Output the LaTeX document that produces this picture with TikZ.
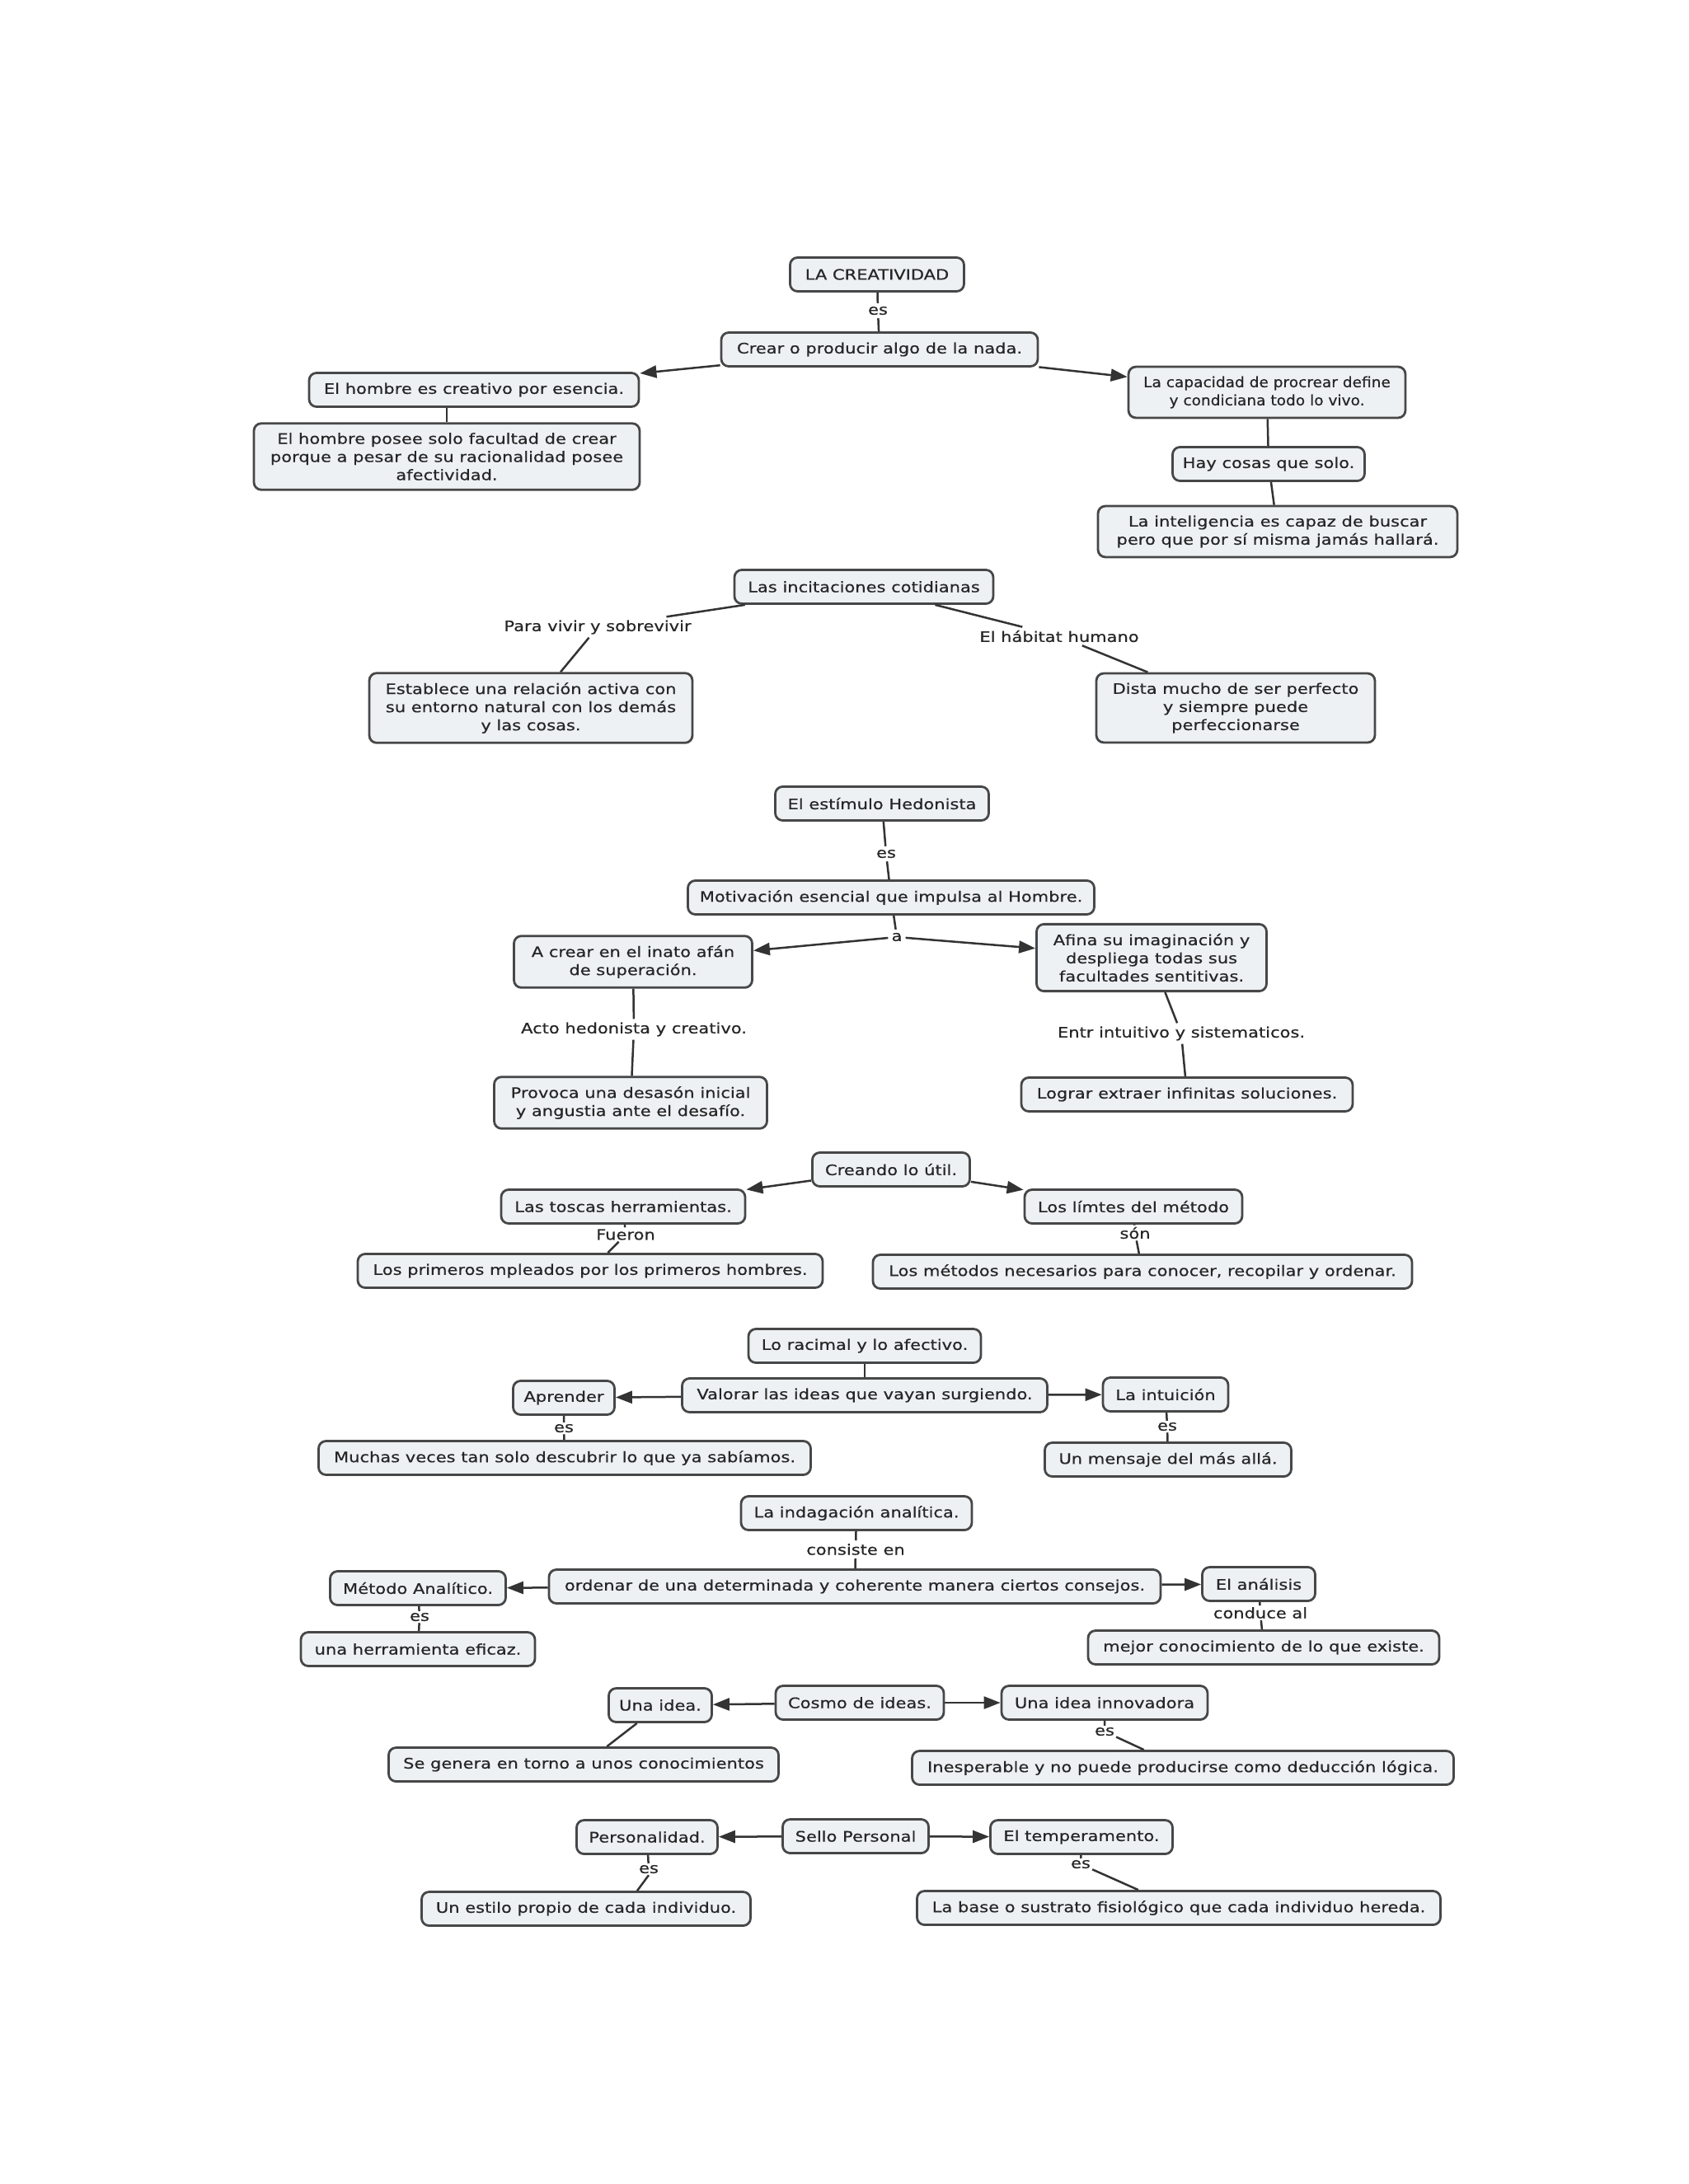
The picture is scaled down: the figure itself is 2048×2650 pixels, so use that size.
\documentclass[tikz,border=0pt]{standalone}
\usepackage{fontspec}
\setmainfont{DejaVu Sans}[FakeStretch=1.2,FakeBold=0.6]
\newfontfamily\narrowfont{DejaVu Sans}[FakeStretch=1.06,FakeBold=0.6]
\usetikzlibrary{arrows.meta}
\definecolor{boxfill}{HTML}{EDF1F4}
\definecolor{boxline}{HTML}{474747}
\definecolor{txt}{HTML}{262626}
\definecolor{conn}{HTML}{333333}
\begin{document}
\begin{tikzpicture}[x=1pt,y=-1pt,
  every node/.style={font=\fontsize{17.5}{22}\selectfont, text=txt},
  cbox/.style={draw=boxline, fill=boxfill, line width=2.8pt, rounded corners=9pt, inner xsep=8pt, inner ysep=11.5pt, minimum height=41pt, align=center},
  lab/.style={inner sep=4pt},
  link/.style={draw=conn, line width=2.5pt},
  arr/.style={link, -{Triangle[length=20pt,width=15pt]}}
]
\fill[white] (0,0) rectangle (2048,2650);
\useasboundingbox (0,0) rectangle (2048,2650);

% --- La creatividad
\node[cbox, minimum width=211] (lac) at (1064,333) {LA CREATIVIDAD};
\node[lab] (es1) at (1065,377) {es};
\node[cbox, minimum width=384] (crear) at (1067,424) {Crear o producir algo de la nada.};
\node[cbox, minimum width=400] (hom) at (575,473) {El hombre es creativo por esencia.};
\node[cbox, minimum width=468] (hpos) at (542,554) {El hombre posee solo facultad de crear\\porque a pesar de su racionalidad posee\\afectividad.};
\node[cbox, minimum width=336, font=\narrowfont\fontsize{17.5}{22}\selectfont] (cap) at (1537,476) {La capacidad de procrear define\\y condiciana todo lo vivo.};
\node[cbox, minimum width=233] (hay) at (1539,563) {Hay cosas que solo.};
\node[cbox, minimum width=436] (intel) at (1550,645) {La inteligencia es capaz de buscar\\pero que por sí misma jamás hallará.};
\draw[link] (lac) -- (es1) -- (crear);
\draw[arr] (crear) -- (hom);
\draw[arr] (crear) -- (cap);
\draw[link] (hpos.north) -- (hpos.north |- hom.south);
\draw[link] (cap) -- (hay);
\draw[link] (hay) -- (intel);

% --- Incitaciones
\node[cbox, minimum width=314] (inc) at (1048,712) {Las incitaciones cotidianas};
\node[lab] (pv) at (725,761) {Para vivir y sobrevivir};
\node[lab] (hab) at (1285,772) {El hábitat humano};
\node[cbox, minimum width=392] (est) at (644,859) {Establece una relación activa con\\su entorno natural con los demás\\y las cosas.};
\node[cbox, minimum width=338] (dista) at (1499,859) {Dista mucho de ser perfecto\\y siempre puede\\perfeccionarse};
\draw[link] (inc) -- (pv) -- (est);
\draw[link] (inc) -- (hab) -- (dista);

% --- Hedonista
\node[cbox, minimum width=259] (estim) at (1070,975) {El estímulo Hedonista};
\node[lab] (es2) at (1075,1036) {es};
\node[cbox, minimum width=493] (moti) at (1081,1089) {Motivación esencial que impulsa al Hombre.};
\node[lab] (a1) at (1088,1137) {a};
\node[cbox, minimum width=289] (acrear) at (768,1167) {A crear en el inato afán\\de superación.};
\node[cbox, minimum width=279] (afina) at (1397,1162) {Afina su imaginación y\\despliega todas sus\\facultades sentitivas.};
\node[lab] (acto) at (769,1249) {Acto hedonista y creativo.};
\node[cbox, minimum width=331] (provoca) at (765,1338) {Provoca una desasón inicial\\y angustia ante el desafío.};
\node[lab] (entr) at (1433,1254) {Entr intuitivo y sistematicos.};
\node[cbox, minimum width=402] (lograr) at (1440,1328) {Lograr extraer infinitas soluciones.};
\draw[link] (estim) -- (es2) -- (moti);
\draw[link] (moti) -- (a1);
\draw[arr] (a1) -- (acrear);
\draw[arr] (a1) -- (afina);
\draw[link] (acrear) -- (acto) -- (provoca);
\draw[link] (afina) -- (entr) -- (lograr);

% --- Creando lo util
\node[cbox, minimum width=191] (creando) at (1081,1419) {Creando lo útil.};
\node[cbox, minimum width=296] (toscas) at (756,1464) {Las toscas herramientas.};
\node[cbox, minimum width=264] (limtes) at (1375,1464) {Los límtes del método};
\node[lab, inner sep=2pt] (fueron) at (759,1498) {Fueron};
\node[lab, inner sep=2pt] (son) at (1377,1496) {són};
\node[cbox, minimum width=564] (prim) at (716,1542) {Los primeros mpleados por los primeros hombres.};
\node[cbox, minimum width=654] (metod) at (1386,1543) {Los métodos necesarios para conocer, recopilar y ordenar.};
\draw[arr] (creando) -- (toscas);
\draw[arr] (creando) -- (limtes);
\draw[link] (toscas) -- (fueron) -- (prim);
\draw[link] (limtes) -- (son) -- (metod);

% --- Valorar
\node[cbox, minimum width=282] (racimal) at (1049,1633) {Lo racimal y lo afectivo.};
\node[cbox, minimum width=443] (valorar) at (1049,1693) {Valorar las ideas que vayan surgiendo.};
\node[cbox, minimum width=123] (aprender) at (684,1696) {Aprender};
\node[cbox, minimum width=152] (intui) at (1414,1692) {La intuición};
\node[lab, inner sep=2pt] (es3) at (684,1733) {es};
\node[cbox, minimum width=597] (muchas) at (685,1769) {Muchas veces tan solo descubrir lo que ya sabíamos.};
\node[lab, inner sep=2pt] (es4) at (1416,1731) {es};
\node[cbox, minimum width=299] (mensaje) at (1417,1771) {Un mensaje del más allá.};
\draw[link] (racimal) -- (valorar);
\draw[arr] (valorar) -- (aprender);
\draw[arr] (valorar) -- (intui);
\draw[link] (aprender) -- (es3) -- (muchas);
\draw[link] (intui) -- (es4) -- (mensaje);

% --- Indagacion
\node[cbox, minimum width=280] (indag) at (1039,1836) {La indagación analítica.};
\node[lab] (consiste) at (1038,1880) {consiste en};
\node[cbox, minimum width=742] (ordenar) at (1037,1925) {ordenar de una determinada y coherente manera ciertos consejos.};
\node[cbox, minimum width=213] (metodo) at (507,1927) {Método Analítico.};
\node[cbox, minimum width=137] (analisis) at (1527,1922) {El análisis};
\node[lab, inner sep=2pt] (es5) at (509,1962) {es};
\node[cbox, minimum width=284] (herram) at (507,2001) {una herramienta eficaz.};
\node[lab, inner sep=2pt] (conduce) at (1529,1957) {conduce al};
\node[cbox, minimum width=426] (mejor) at (1533,1999) {mejor conocimiento de lo que existe.};
\draw[link] (indag) -- (consiste) -- (ordenar);
\draw[arr] (ordenar) -- (metodo);
\draw[arr] (ordenar) -- (analisis);
\draw[link] (metodo) -- (es5) -- (herram);
\draw[link] (analisis) -- (conduce) -- (mejor);

% --- Cosmo
\node[cbox, minimum width=204] (cosmo) at (1043,2066) {Cosmo de ideas.};
\node[cbox, minimum width=125] (unaidea) at (801,2069) {Una idea.};
\node[cbox, minimum width=250] (innov) at (1340,2066) {Una idea innovadora};
\node[lab, inner sep=2pt] (es6) at (1340,2101) {es};
\node[cbox, minimum width=473] (segenera) at (708,2141) {Se genera en torno a unos conocimientos};
\node[cbox, minimum width=657] (inesp) at (1435,2145) {Inesperable y no puede producirse como deducción lógica.};
\draw[arr] (cosmo) -- (unaidea);
\draw[arr] (cosmo) -- (innov);
\draw[link] (unaidea) -- (segenera);
\draw[link] (innov) -- (es6) -- (inesp);

% --- Sello
\node[cbox, minimum width=177] (sello) at (1038,2228) {Sello Personal};
\node[cbox, minimum width=171] (perso) at (785,2229) {Personalidad.};
\node[cbox, minimum width=221] (temper) at (1312,2229) {El temperamento.};
\node[lab, inner sep=2pt] (es7) at (787,2268) {es};
\node[lab, inner sep=2pt] (es8) at (1311,2262) {es};
\node[cbox, minimum width=399] (estilo) at (711,2316) {Un estilo propio de cada individuo.};
\node[cbox, minimum width=635] (labase) at (1430,2315) {La base o sustrato fisiológico que cada individuo hereda.};
\draw[arr] (sello) -- (perso);
\draw[arr] (sello) -- (temper);
\draw[link] (perso) -- (es7);
\draw[link] (es7.south) -- ([xshift=-14pt]es7.south |- estilo.north);
\draw[link] (temper) -- (es8) -- (labase);
\end{tikzpicture}
\end{document}
